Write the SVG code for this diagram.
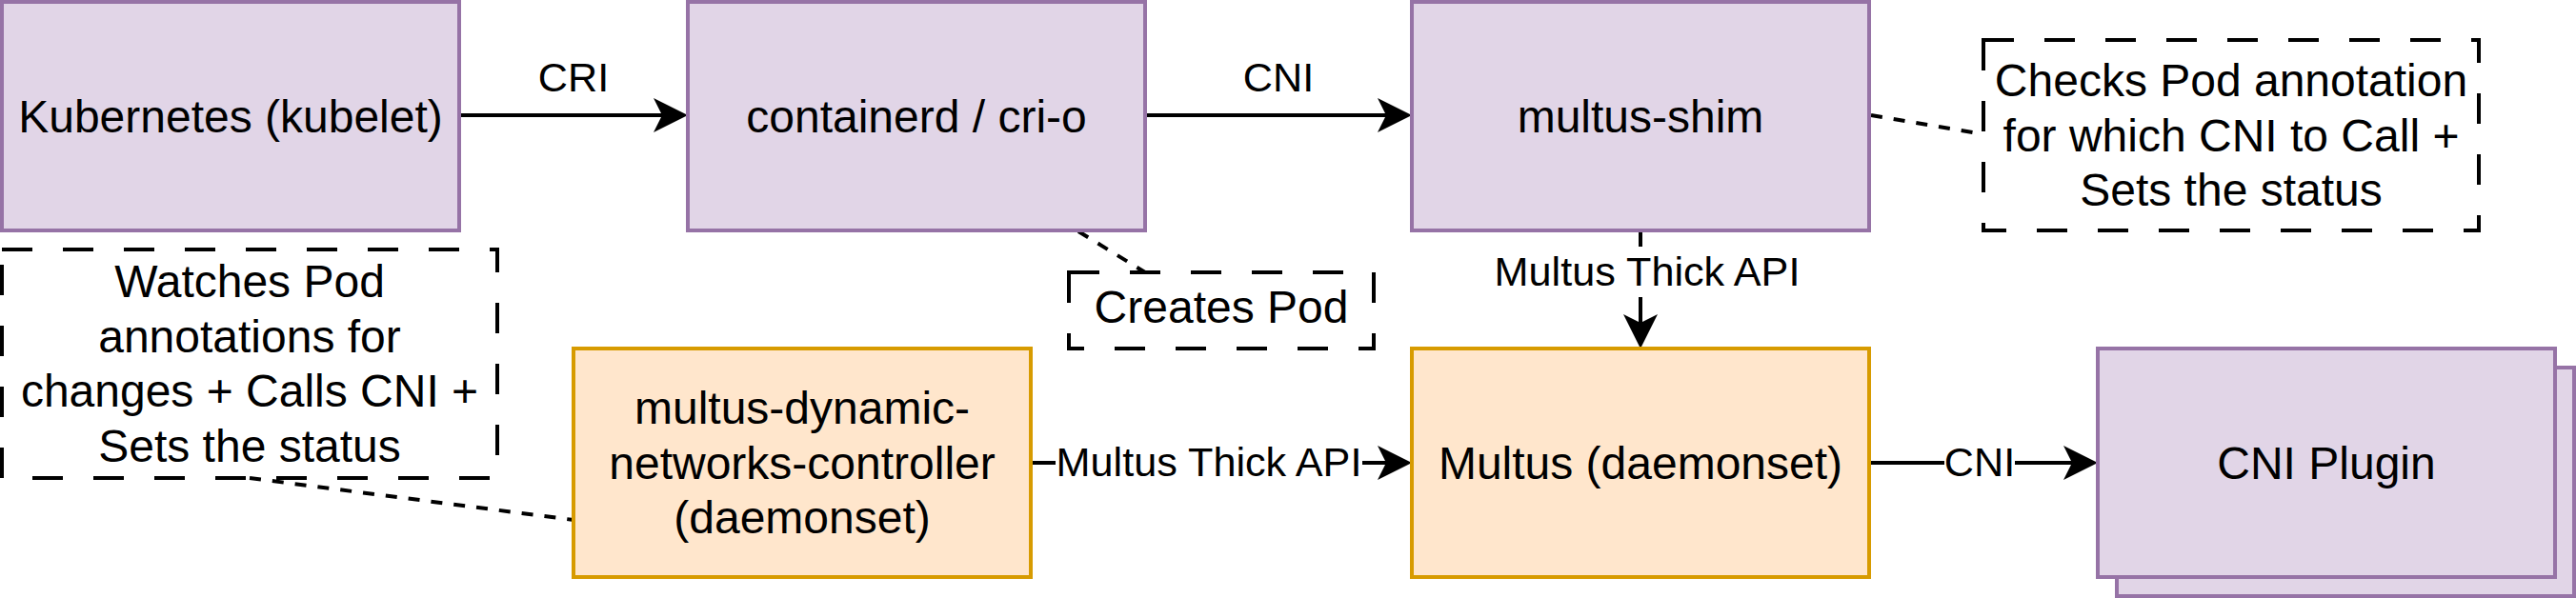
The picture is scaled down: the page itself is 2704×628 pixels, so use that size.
<svg xmlns="http://www.w3.org/2000/svg" width="2704" height="628" viewBox="0 0 2704 628">
<style>
.p{fill:#e1d5e7;stroke:#9673a6;stroke-width:4}
.o{fill:#ffe6cc;stroke:#d79b00;stroke-width:4}
.n{fill:none;stroke:#000;stroke-width:4;stroke-dasharray:32 32}
.t{font-family:"Liberation Sans",Arial,sans-serif;font-size:48px;fill:#000;text-anchor:middle}
.l{font-family:"Liberation Sans",Arial,sans-serif;font-size:43.2px;fill:#000;text-anchor:middle}
.c{fill:none;stroke:#000;stroke-width:4}
.d{fill:none;stroke:#000;stroke-width:4;stroke-dasharray:12 12}
.bg{fill:#fff}
</style>
<defs>
<marker id="a" viewBox="0 0 36 36" markerWidth="36" markerHeight="36" markerUnits="userSpaceOnUse" refX="9" refY="18" orient="auto">
<path d="M0,0 L36,18 L0,36 L9,18 Z" fill="#000"/>
</marker>
</defs>
<g id="connectors">
<line class="c" x1="484" y1="121" x2="695" y2="121" marker-end="url(#a)"/>
<text class="l" x="602" y="96">CRI</text>
<line class="c" x1="1204" y1="121" x2="1455" y2="121" marker-end="url(#a)"/>
<text class="l" x="1342" y="96">CNI</text>
<line class="c" x1="1722" y1="244" x2="1722" y2="339" marker-end="url(#a)"/>
<rect class="bg" x="1566" y="259" width="328" height="53"/>
<text class="l" x="1729" y="300">Multus Thick API</text>
<line class="c" x1="1084" y1="486" x2="1455" y2="486" marker-end="url(#a)"/>
<rect class="bg" x="1108" y="460" width="322" height="52"/>
<text class="l" x="1269" y="500">Multus Thick API</text>
<line class="c" x1="1964" y1="486" x2="2175" y2="486" marker-end="url(#a)"/>
<rect class="bg" x="2041" y="460" width="74" height="52"/>
<text class="l" x="2078" y="500">CNI</text>
<line class="d" x1="1132" y1="243" x2="1202" y2="286"/>
<line class="d" x1="1964" y1="121" x2="2082" y2="141"/>
<line class="d" x1="262" y1="502" x2="602" y2="546"/>
</g>
<g id="kubelet">
<rect class="p" x="2" y="2" width="480" height="240"/>
<text class="t" x="242" y="138.6">Kubernetes (kubelet)</text>
</g>
<g id="containerd">
<rect class="p" x="722" y="2" width="480" height="240"/>
<text class="t" x="962" y="138.6">containerd / cri-o</text>
</g>
<g id="multus-shim">
<rect class="p" x="1482" y="2" width="480" height="240"/>
<text class="t" x="1722" y="138.6">multus-shim</text>
</g>
<g id="checks-note">
<rect class="n" x="2082" y="42" width="520" height="200"/>
<text class="t" x="2342" y="101">Checks Pod annotation</text>
<text class="t" x="2342" y="158.6">for which CNI to Call +</text>
<text class="t" x="2342" y="216.2">Sets the status</text>
</g>
<g id="creates-pod-note">
<rect class="n" x="1122" y="286" width="320" height="80"/>
<text class="t" x="1282" y="339">Creates Pod</text>
</g>
<g id="watches-note">
<rect class="n" x="2" y="262" width="520" height="240"/>
<text class="t" x="262" y="312.2">Watches Pod</text>
<text class="t" x="262" y="369.8">annotations for</text>
<text class="t" x="262" y="427.4">changes + Calls CNI +</text>
<text class="t" x="262" y="485">Sets the status</text>
</g>
<g id="multus-dynamic-networks-controller">
<rect class="o" x="602" y="366" width="480" height="240"/>
<text class="t" x="842" y="445">multus-dynamic-</text>
<text class="t" x="842" y="502.6">networks-controller</text>
<text class="t" x="842" y="560.2">(daemonset)</text>
</g>
<g id="multus-daemonset">
<rect class="o" x="1482" y="366" width="480" height="240"/>
<text class="t" x="1722" y="502.6">Multus (daemonset)</text>
</g>
<g id="cni-plugin">
<rect class="p" x="2222" y="386" width="480" height="240"/>
<rect class="p" x="2202" y="366" width="480" height="240"/>
<text class="t" x="2442" y="502.6">CNI Plugin</text>
</g>
</svg>
